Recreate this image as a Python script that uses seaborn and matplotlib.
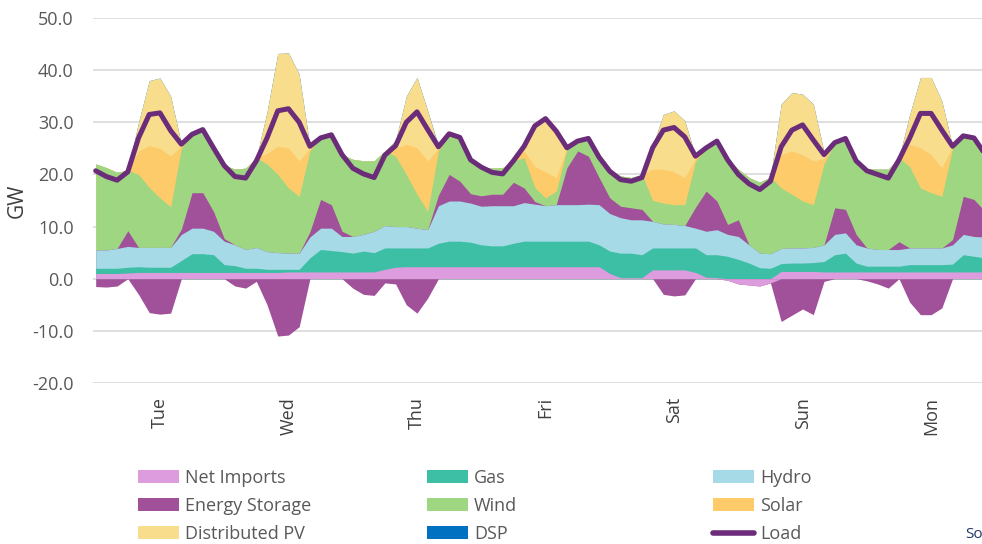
import numpy as np
import pandas as pd
from matplotlib import pyplot as plt
from matplotlib.patches import Patch
from matplotlib.lines import Line2D
import seaborn as sns

# 2-hourly readings, hour 0 = Tue 00:00
hours = list(range(0, 168, 2))
day_ticks = [12, 36, 60, 84, 108, 132, 156]
day_labels = ['Tue', 'Wed', 'Thu', 'Fri', 'Sat', 'Sun', 'Mon']

net_imports = [1.0, 1.0, 1.0, 1.1, 1.2, 1.2, 1.2, 1.2, 1.2, 1.2, 1.2, 1.2,
               1.2, 1.2, 1.2, 1.2, 1.2, 1.2, 1.3, 1.3, 1.3, 1.3, 1.3, 1.3,
               1.3, 1.3, 1.3, 1.8, 2.2, 2.3, 2.3, 2.3, 2.3, 2.3, 2.3, 2.3,
               2.3, 2.3, 2.3, 2.3, 2.3, 2.3, 2.3, 2.3, 2.3, 2.3, 2.3, 2.3,
               1.0, 0.2, 0.2, 0.2, 1.7, 1.7, 1.7, 1.7, 1.2, 0.3, 0.2, -0.3,
               -1.0, -1.2, -1.4, -0.8, 1.4, 1.4, 1.4, 1.4, 1.3, 1.3, 1.3, 1.3,
               1.3, 1.3, 1.3, 1.3, 1.3, 1.3, 1.3, 1.3, 1.3, 1.3, 1.3, 1.3]
gas = [1.0, 1.0, 1.0, 1.1, 1.1, 1.0, 1.0, 1.0, 2.3, 3.6, 3.6, 3.4,
       1.5, 1.3, 0.8, 0.8, 0.6, 0.6, 0.5, 0.5, 2.7, 4.3, 4.1, 3.9,
       3.6, 4.0, 3.7, 4.1, 3.7, 3.6, 3.6, 3.6, 4.5, 4.9, 4.9, 4.7,
       4.2, 4.0, 4.0, 4.5, 4.9, 4.9, 4.9, 4.9, 4.9, 4.9, 4.9, 4.2,
       4.3, 4.7, 4.7, 4.4, 4.2, 4.2, 4.2, 4.2, 4.7, 4.3, 4.4, 4.3,
       3.7, 3.0, 2.1, 2.0, 1.5, 1.6, 1.6, 1.7, 2.0, 3.3, 3.6, 1.7,
       1.1, 1.1, 1.1, 1.1, 1.4, 1.4, 1.4, 1.4, 1.5, 3.3, 3.0, 2.7]
hydro = [3.5, 3.5, 3.8, 4.0, 3.7, 3.8, 3.8, 3.8, 5.0, 4.9, 4.9, 4.5,
         4.5, 4.0, 3.6, 4.0, 3.4, 3.2, 3.1, 3.1, 4.0, 4.1, 4.3, 2.9,
         3.2, 3.2, 4.1, 4.3, 4.1, 4.1, 3.8, 3.5, 7.2, 7.7, 7.7, 7.5,
         7.4, 7.7, 7.7, 7.2, 7.4, 7.1, 6.8, 7.0, 7.0, 7.0, 7.1, 7.7,
         7.2, 6.8, 6.4, 6.7, 5.1, 4.6, 4.5, 4.3, 3.8, 4.5, 4.8, 4.2,
         4.4, 3.5, 2.8, 2.8, 2.9, 2.9, 2.9, 2.9, 3.2, 3.9, 3.9, 3.5,
         3.5, 3.2, 3.2, 3.2, 3.2, 3.2, 3.2, 3.2, 3.7, 3.9, 3.8, 4.0]
storage = [-1.5, -1.6, -1.4, 3.0, -3.0, -6.5, -6.8, -6.6, 1.0, 6.8, 6.8, 3.8,
           0.5, -1.4, -1.8, -0.5, -5.0, -11.0, -10.8, -9.2, 1.0, 5.5, 4.5, 1.0,
           -1.8, -3.0, -3.2, -0.8, -1.0, -5.0, -6.6, -3.7, 2.0, 5.1, 3.8, 1.8,
           2.0, 2.2, 2.2, 4.5, 2.8, 0.5, 0.0, 0.0, 7.1, 10.3, 9.2, 5.2,
           3.0, 2.2, 2.3, 2.0, 0.0, -3.0, -3.3, -3.1, 4.0, 7.7, 5.5, 1.9,
           3.2, 0.0, 0.0, 0.0, -8.2, -7.0, -5.8, -6.9, -0.5, 5.1, 4.5, 2.0,
           -0.4, -1.0, -1.8, 1.5, -4.5, -6.9, -6.9, -5.6, 1.0, 7.3, 7.1, 5.0]
wind = [16.5, 15.8, 14.6, 11.6, 14.0, 11.5, 9.5, 7.8, 15.5, 11.2, 12.1, 12.2,
        14.1, 14.5, 15.6, 17.2, 16.8, 15.0, 12.5, 10.9, 15.5, 11.8, 13.4, 14.7,
        14.8, 14.1, 13.5, 14.3, 13.5, 10.0, 6.5, 3.5, 8.5, 7.7, 8.2, 6.7,
        5.6, 5.0, 5.1, 4.1, 5.8, 2.7, 1.5, 2.6, 3.5, 1.6, 3.4, 4.1,
        5.3, 5.8, 5.8, 6.7, 4.0, 4.0, 3.8, 4.0, 8.8, 8.3, 11.5, 12.6,
        9.7, 12.9, 13.6, 14.7, 11.6, 10.3, 9.0, 8.2, 15.5, 12.5, 13.6, 14.1,
        15.2, 15.4, 15.4, 16.1, 15.6, 11.5, 10.6, 9.9, 17.5, 11.6, 11.8, 11.0]
solar = [0, 0, 0, 0, 4.5, 8.0, 9.5, 9.7, 0.5, 0, 0, 0,
         0, 0, 0, 0, 2.0, 5.4, 7.7, 6.8, 0.5, 0, 0, 0,
         0, 0, 0, 0, 1.5, 5.8, 8.9, 9.7, 0.5, 0, 0, 0,
         0, 0, 0, 0, 1.3, 4.0, 5.0, 2.6, 0.3, 0, 0, 0,
         0, 0, 0, 0, 6.0, 6.5, 6.3, 5.2, 0.5, 0, 0, 0,
         0, 0, 0, 0, 6.4, 8.3, 8.9, 8.4, 1.0, 0, 0, 0,
         0, 0, 0, 0, 4.3, 7.7, 7.3, 5.5, 0.3, 0, 0, 0]
distributed_pv = [0, 0, 0, 0, 5.5, 12.5, 13.5, 11.5, 0.3, 0, 0, 0,
                  0, 0, 0, 0, 8.0, 17.8, 18.2, 16.6, 0.4, 0, 0, 0,
                  0, 0, 0, 0, 1.5, 9.2, 13.5, 9.6, 0.3, 0, 0, 0,
                  0, 0, 0, 0, 0.9, 7.9, 10.2, 8.9, 0, 0, 0, 0,
                  0, 0, 0, 0, 4.5, 10.5, 11.7, 10.9, 0.5, 0, 0, 0,
                  0, 0, 0, 0, 9.7, 11.2, 11.6, 10.9, 1.3, 0, 0, 0,
                  0, 0, 0, 0, 5.7, 13.5, 14.8, 12.8, 0.1, 0, 0, 0]
dsp = [0, 0, 0, 0, 0, 0, 0, 0, 0, 0, 0, 0,
       0, 0, 0, 0, 0, 0, 0, 0, 0, 0, 0, 0,
       0, 0, 0, 0, 0, 0, 0, 0, 0.2, 0.3, 0.3, 0.2,
       0, 0, 0, 0, 0, 0, 0, 0, 0.3, 0.3, 0.2, 0,
       0, 0, 0, 0, 0, 0, 0, 0, 0, 0, 0, 0,
       0, 0, 0, 0, 0, 0, 0, 0, 0, 0, 0, 0,
       0, 0, 0, 0, 0, 0, 0, 0, 0, 0, 0, 0]
load = [20.7, 19.6, 18.9, 20.5, 27.0, 31.5, 31.8, 28.4, 25.8, 27.7, 28.6, 25.1,
        21.7, 19.6, 19.3, 22.6, 27.0, 32.2, 32.6, 30.0, 25.4, 27.0, 27.6, 23.8,
        21.2, 20.1, 19.4, 23.7, 25.5, 30.0, 32.0, 28.6, 25.3, 27.8, 27.1, 22.8,
        21.4, 20.4, 20.1, 22.6, 25.4, 29.3, 30.7, 28.3, 25.1, 26.4, 26.9, 23.3,
        20.6, 19.0, 18.7, 19.4, 25.1, 28.5, 29.0, 27.2, 23.5, 25.1, 26.4, 22.8,
        20.0, 18.2, 17.1, 18.7, 25.3, 28.5, 29.5, 26.6, 23.8, 26.1, 26.9, 22.6,
        20.7, 20.0, 19.3, 22.8, 27.0, 31.7, 31.7, 28.5, 25.4, 27.4, 27.0, 24.0]

colors = {
    'Net Imports': '#DC9CDD',
    'Gas': '#3DBFA6',
    'Hydro': '#A5DAE6',
    'Energy Storage': '#A1509A',
    'Wind': '#9ED681',
    'Solar': '#FDCB6A',
    'Distributed PV': '#F8DD8D',
    'DSP': '#0070C0',
    'Load': '#6B2C7A',
}

df = pd.DataFrame({'hour': hours, 'Net Imports': net_imports, 'Gas': gas,
                   'Hydro': hydro, 'Energy Storage': storage, 'Wind': wind,
                   'Solar': solar, 'Distributed PV': distributed_pv,
                   'DSP': dsp, 'Load': load})

sns.set_theme(style='whitegrid')
plt.rcParams['font.family'] = ['Open Sans', 'DejaVu Sans']

fig = plt.figure(figsize=(9.82, 5.44), dpi=100)
ax = fig.add_axes([93 / 982, 1 - 383 / 544, 1 - 93 / 982, (383 - 18) / 544])

x = df['hour'].values
# stacked areas: paint cumulative totals from the outside in, so no seams
pos_order = ['Net Imports', 'Gas', 'Hydro', 'Energy Storage', 'Wind',
             'Solar', 'Distributed PV', 'DSP']
pos_tops = np.cumsum([np.clip(df[n].values, 0, None) for n in pos_order], axis=0)
for name, top in reversed(list(zip(pos_order, pos_tops))):
    ax.fill_between(x, 0, top, color=colors[name], lw=0, zorder=2)

neg_order = ['Net Imports', 'Energy Storage']
neg_bots = np.cumsum([np.clip(df[n].values, None, 0) for n in neg_order], axis=0)
for name, bot in reversed(list(zip(neg_order, neg_bots))):
    ax.fill_between(x, bot, 0, color=colors[name], lw=0, zorder=2)

sns.lineplot(data=df, x='hour', y='Load', ax=ax, color=colors['Load'],
             lw=3.6, zorder=4, legend=False)

ax.set_xlim(-0.5, 165.5)
ax.set_ylim(-20, 50)
ax.set_yticks(range(-20, 51, 10))
ax.set_yticklabels([f'{v:.1f}' for v in range(-20, 51, 10)])
ax.set_xticks(day_ticks)
ax.set_xticklabels(day_labels, rotation=90)
ax.grid(axis='x', visible=False)
ax.grid(axis='y', color='#D9D9D9', lw=1.2)
ax.set_axisbelow(True)
for s in ax.spines.values():
    s.set_visible(False)
ax.tick_params(axis='y', length=0, pad=14, labelsize=13, labelcolor='#595959')
ax.tick_params(axis='x', length=0, pad=10, labelsize=13, labelcolor='#404040')
ax.set_xlabel('')
ax.set_ylabel('GW', fontsize=15, color='#404040', labelpad=3)

# legend in three columns
entries = [['Net Imports', 'Energy Storage', 'Distributed PV'],
           ['Gas', 'Wind', 'DSP'],
           ['Hydro', 'Solar', 'Load']]
col_x = [138, 427, 713]
for cx, names in zip(col_x, entries):
    handles = []
    for n in names:
        if n == 'Load':
            handles.append(Line2D([], [], color=colors[n], lw=4,
                                  solid_capstyle='round'))
        else:
            handles.append(Patch(facecolor=colors[n], edgecolor='none'))
    fig.legend(handles, names, loc='upper left',
               bbox_to_anchor=(cx / 982, 1 - 469 / 544), frameon=False,
               fontsize=13, labelcolor='#595959', borderpad=0,
               borderaxespad=0, handlelength=2.25, handleheight=0.72,
               handletextpad=0.35, labelspacing=0.56)

fig.text(965 / 982, 1 - 535 / 544, 'So', fontsize=11,
         color='#1F3864', va='center', ha='left')

fig.savefig('out.png', dpi=100)
